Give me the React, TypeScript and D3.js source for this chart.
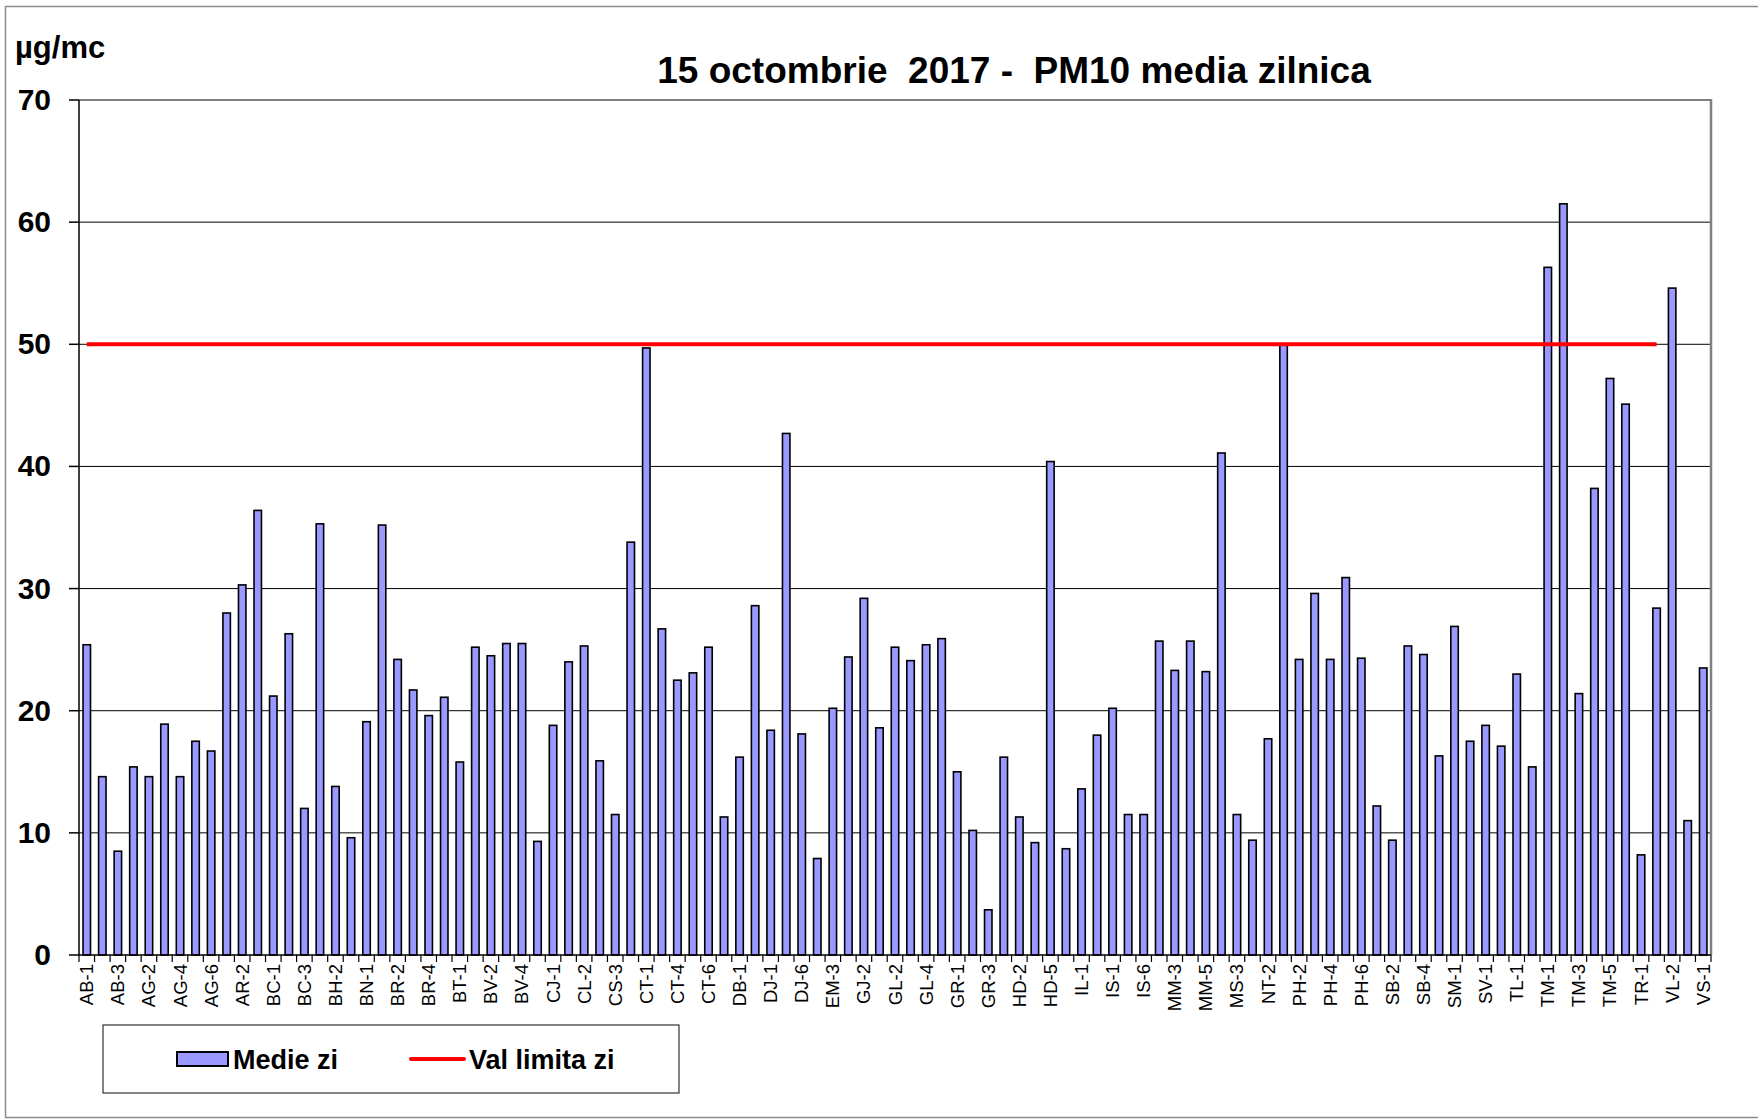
import React from "react";
import * as d3 from "d3";

const categories: string[] = [
  "AB-1","AB-2","AB-3","AG-1","AG-2","AG-3","AG-4","AG-5","AG-6","AR-1",
  "AR-2","AR-3","BC-1","BC-2","BC-3","BH-1","BH-2","BH-3","BN-1","BR-1",
  "BR-2","BR-3","BR-4","BR-5","BT-1","BV-1","BV-2","BV-3","BV-4","BZ-1",
  "CJ-1","CL-1","CL-2","CS-2","CS-3","CS-4","CT-1","CT-2","CT-4","CT-5",
  "CT-6","CV-1","DB-1","DB-2","DJ-1","DJ-3","DJ-6","EM-2","EM-3","GJ-1",
  "GJ-2","GL-1","GL-2","GL-3","GL-4","GL-5","GR-1","GR-2","GR-3","HD-1",
  "HD-2","HD-4","HD-5","HR-1","IL-1","IL-2","IS-1","IS-5","IS-6","MM-1",
  "MM-3","MM-4","MM-5","MS-1","MS-3","NT-1","NT-2","OT-1","PH-2","PH-3",
  "PH-4","PH-5","PH-6","SB-1","SB-2","SB-3","SB-4","SJ-1","SM-1","SM-2",
  "SV-1","SV-2","TL-1","TL-2","TM-1","TM-2","TM-3","TM-4","TM-5","TM-6",
  "TR-1","VL-1","VL-2","VN-1","VS-1",
];

const medieZi: number[] = [
  25.4, 14.6, 8.5, 15.4, 14.6, 18.9, 14.6, 17.5, 16.7, 28.0,
  30.3, 36.4, 21.2, 26.3, 12.0, 35.3, 13.8, 9.6, 19.1, 35.2,
  24.2, 21.7, 19.6, 21.1, 15.8, 25.2, 24.5, 25.5, 25.5, 9.3,
  18.8, 24.0, 25.3, 15.9, 11.5, 33.8, 49.7, 26.7, 22.5, 23.1,
  25.2, 11.3, 16.2, 28.6, 18.4, 42.7, 18.1, 7.9, 20.2, 24.4,
  29.2, 18.6, 25.2, 24.1, 25.4, 25.9, 15.0, 10.2, 3.7, 16.2,
  11.3, 9.2, 40.4, 8.7, 13.6, 18.0, 20.2, 11.5, 11.5, 25.7,
  23.3, 25.7, 23.2, 41.1, 11.5, 9.4, 17.7, 50.0, 24.2, 29.6,
  24.2, 30.9, 24.3, 12.2, 9.4, 25.3, 24.6, 16.3, 26.9, 17.5,
  18.8, 17.1, 23.0, 15.4, 56.3, 61.5, 21.4, 38.2, 47.2, 45.1,
  8.2, 28.4, 54.6, 11.0, 23.5,
];

const limitValue = 50;
const limitFrom = "AB-1";
const limitTo = "VL-1";

const yTicks: number[] = [0, 10, 20, 30, 40, 50, 60, 70];

const titleText = "15 octombrie  2017 -  PM10 media zilnica";
const unitText = "µg/mc";
const legendBar = "Medie zi";
const legendLine = "Val limita zi";

const W = 1758;
const H = 1120;
const FONT = "'Liberation Sans', Arial, Helvetica, sans-serif";

export default function App() {
  const left = 79;
  const right = 1711;
  const top = 100;
  const bottom = 955;

  const x = d3.scaleBand<string>().domain(categories).range([left, right]).paddingInner(0).paddingOuter(0);
  const y = d3.scaleLinear().domain([0, 70]).range([bottom, top]);
  const bw = x.bandwidth();
  const barW = bw * 0.48;
  const cx = (c: string) => (x(c) as number) + bw / 2;

  const boundaries = d3.range(categories.length + 1).map((i) => left + i * bw);

  return (
    <svg
      width={W}
      height={H}
      style={{ position: "absolute", left: 0, top: 0, background: "#fff" }}
      fontFamily={FONT}
    >
      <rect x={0} y={0} width={W} height={H} fill="#fff" />
      <rect x={5.5} y={6.5} width={1800} height={1111} fill="none" stroke="#8c8c8c" strokeWidth={1.5} />

      {yTicks.filter((t) => t > 0 && t < 70).map((t) => (
        <line key={"g" + t} x1={left} x2={right} y1={y(t)} y2={y(t)} stroke="#000" strokeWidth={1} />
      ))}

      <line x1={left} x2={right} y1={top} y2={top} stroke="#808080" strokeWidth={2} />
      <line x1={right} x2={right} y1={top - 1} y2={bottom} stroke="#808080" strokeWidth={2.5} />

      {categories.map((c, i) => (
        <rect
          key={c}
          x={cx(c) - barW / 2}
          y={y(medieZi[i])}
          width={barW}
          height={y(0) - y(medieZi[i])}
          fill="#9999ff"
          stroke="#000"
          strokeWidth={1.6}
        />
      ))}

      <line x1={left} x2={left} y1={top} y2={bottom} stroke="#000" strokeWidth={1.5} />
      <line x1={left} x2={right} y1={bottom} y2={bottom} stroke="#000" strokeWidth={1.5} />
      {yTicks.map((t) => (
        <g key={"yt" + t}>
          <line x1={left - 10} x2={left} y1={y(t)} y2={y(t)} stroke="#000" strokeWidth={1.5} />
          <text x={51} y={y(t) + 10} textAnchor="end" fontSize={30} fontWeight="bold" fill="#000">
            {t}
          </text>
        </g>
      ))}
      {boundaries.map((bx, i) => (
        <line key={"xt" + i} x1={bx} x2={bx} y1={bottom} y2={bottom + 7} stroke="#000" strokeWidth={1.2} />
      ))}
      {categories.map((c, i) =>
        i % 2 === 0 ? (
          <text
            key={"xl" + c}
            transform={`translate(${cx(c)},${964}) rotate(-90)`}
            textAnchor="end"
            dominantBaseline="central"
            fontSize={18.5}
            fill="#000"
          >
            {c}
          </text>
        ) : null
      )}

      <line
        x1={cx(limitFrom)}
        x2={cx(limitTo)}
        y1={y(limitValue)}
        y2={y(limitValue)}
        stroke="#ff0000"
        strokeWidth={4}
      />

      <text x={1014} y={83} textAnchor="middle" fontSize={37} fontWeight="bold" fill="#000" style={{ whiteSpace: "pre" }}>
        {titleText}
      </text>
      <text x={15} y={58} fontSize={31} fontWeight="bold" fill="#000">
        {unitText}
      </text>

      <rect x={103} y={1025} width={576} height={68} fill="#fff" stroke="#333" strokeWidth={1.2} />
      <rect x={177} y={1052} width={51} height={14} fill="#9999ff" stroke="#000" strokeWidth={2} />
      <text x={233} y={1069} fontSize={27} fontWeight="bold" fill="#000">
        {legendBar}
      </text>
      <line x1={411} x2={464} y1={1059} y2={1059} stroke="#ff0000" strokeWidth={4} strokeLinecap="round" />
      <text x={469} y={1069} fontSize={27} fontWeight="bold" fill="#000">
        {legendLine}
      </text>
    </svg>
  );
}
